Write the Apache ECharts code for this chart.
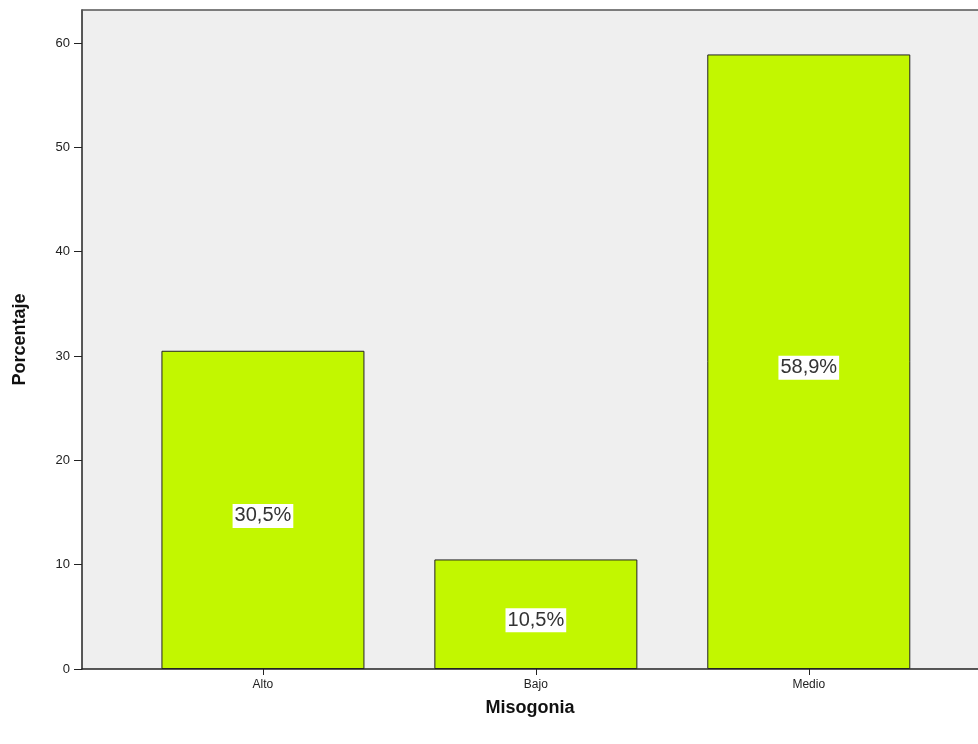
<!DOCTYPE html>
<html>
<head>
<meta charset="utf-8">
<script src="https://cdn.jsdelivr.net/npm/echarts@6/dist/echarts.min.js"></script>
<style>html,body{margin:0;padding:0;background:#fff}#c{width:978px;height:744px}</style>
</head>
<body>
<div id="c"></div>
<script>
const categories = ['Alto', 'Bajo', 'Medio'];
const values = [30.5, 10.5, 58.9];
const valueLabels = ['30,5%', '10,5%', '58,9%'];
const yTicks = [0, 10, 20, 30, 40, 50, 60];

const chart = echarts.init(document.getElementById('c'));
const FONT = 'Liberation Sans, Arial, sans-serif';
chart.setOption({
  animation: false,
  grid: { left: 82, right: 0, top: 10, bottom: 75, show: true, backgroundColor: '#efefef', borderWidth: 0 },
  xAxis: [{
    type: 'value',
    min: -0.663,
    max: 2.62,
    name: 'Misogonia',
    nameLocation: 'middle',
    nameGap: 30,
    nameTextStyle: { fontFamily: FONT, fontSize: 18, fontWeight: 'bold', color: '#111' },
    splitLine: { show: false },
    axisLine: { show: true, onZero: false, lineStyle: { color: '#222', width: 1.5 } },
    axisTick: { show: true, customValues: [0, 1, 2], length: 6, lineStyle: { color: '#222' } },
    axisLabel: {
      customValues: [0, 1, 2],
      formatter: v => categories[Math.round(v)],
      fontFamily: FONT, fontSize: 12, color: '#222', margin: 10
    }
  }, {
    type: 'value', position: 'top', min: 0, max: 1,
    axisLine: { show: true, onZero: false, lineStyle: { color: '#555', width: 1.5 } },
    axisTick: { show: false }, axisLabel: { show: false }, splitLine: { show: false }
  }],
  yAxis: {
    type: 'value',
    min: 0,
    max: 63.16,
    interval: 10,
    name: 'Porcentaje',
    nameLocation: 'middle',
    nameGap: 53,
    nameTextStyle: { fontFamily: FONT, fontSize: 18, fontWeight: 'bold', color: '#111' },
    splitLine: { show: false },
    axisLine: { show: true, onZero: false, lineStyle: { color: '#222', width: 1.5 } },
    axisTick: { show: true, customValues: yTicks, length: 8, lineStyle: { color: '#222' } },
    axisLabel: { customValues: yTicks, fontFamily: FONT, fontSize: 13, color: '#222', margin: 12 }
  },
  series: [{
    type: 'bar',
    xAxisIndex: 0,
    barWidth: 203,
    data: values.map((v, i) => [i, v]),
    itemStyle: { color: '#c2f700', borderColor: '#222', borderWidth: 1 },
    label: {
      show: true,
      position: 'inside',
      offset: [0, 6],
      formatter: p => valueLabels[p.dataIndex],
      fontFamily: FONT,
      fontSize: 20,
      color: '#333',
      backgroundColor: '#ffffff',
      padding: [3, 2, 1, 2]
    }
  }]
});
</script>
</body>
</html>
